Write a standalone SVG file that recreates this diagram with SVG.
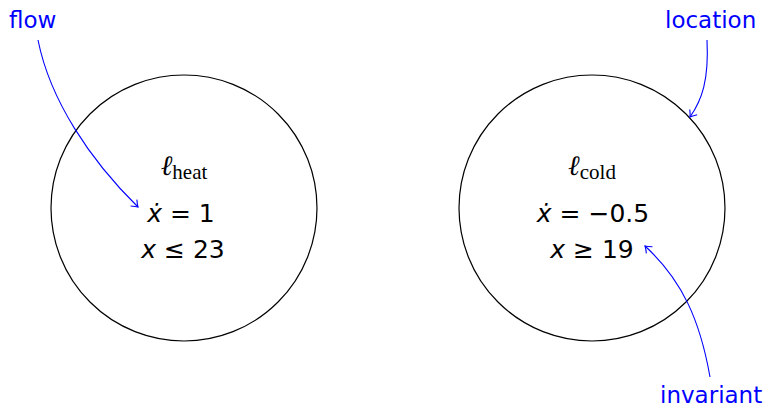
<svg xmlns="http://www.w3.org/2000/svg" width="768" height="409" viewBox="0 0 768 409">
<style>
.loc{fill:none;stroke:#000;stroke-width:1.2}
.m{font-family:"DejaVu Sans","Liberation Sans",sans-serif;font-size:25px;fill:#000;text-anchor:middle}
.it{font-style:italic}
.ell{font-family:"DejaVu Serif","Liberation Serif",serif;font-size:28px;font-style:italic;text-anchor:middle}
.sub{font-family:"Liberation Serif","DejaVu Serif",serif;font-size:21px}
.lab{font-family:"DejaVu Sans","Liberation Sans",sans-serif;font-size:23px;fill:#0000ff}
.arr{fill:none;stroke:#0000ff;stroke-width:1.1;marker-end:url(#ah)}
</style>
<defs>
<marker id="ah" viewBox="-8 -6 10 12" refX="0" refY="0" markerWidth="10" markerHeight="12" markerUnits="userSpaceOnUse" orient="auto">
<path d="M-6,-4.5 Q-2,-1 0,0 Q-2,1 -6,4.5" fill="none" stroke="#0000ff" stroke-width="1.1"/>
</marker>
</defs>
<g id="heat">
<circle class="loc" cx="184" cy="208" r="133"/>
<text class="ell" x="184" y="175">ℓ<tspan class="sub" font-style="normal" dy="4">heat</tspan></text>
<text class="m" x="181" y="222"><tspan class="it">ẋ</tspan> = 1</text>
<text class="m" x="183" y="258"><tspan class="it">x</tspan> ≤ 23</text>
</g>
<g id="cold">
<circle class="loc" cx="592" cy="208" r="133"/>
<text class="ell" x="592" y="175">ℓ<tspan class="sub" font-style="normal" dy="4">cold</tspan></text>
<text class="m" x="593" y="222"><tspan class="it">ẋ</tspan> = −0.5</text>
<text class="m" x="592" y="258"><tspan class="it">x</tspan> ≥ 19</text>
</g>
<g id="labels">
<text class="lab" x="9" y="28">flow</text>
<text class="lab" x="665" y="28">location</text>
<text class="lab" x="660" y="403">invariant</text>
</g>
<g id="connectors">
<path class="arr" d="M38,40 C50,100 90,160 138,207"/>
<path class="arr" d="M707,40 C709,80 702,100 690,117"/>
<path class="arr" d="M710,377 C700,320 682,280 645,246"/>
</g>
</svg>
